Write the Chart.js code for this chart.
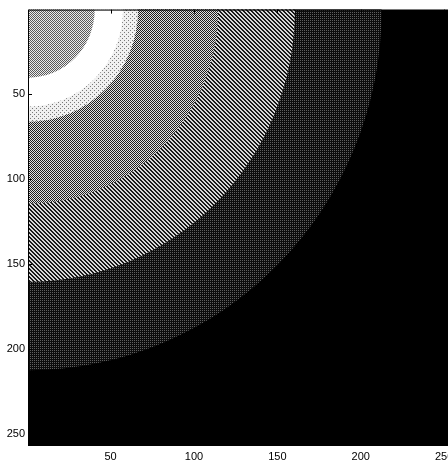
<!DOCTYPE html>
<html>
<head>
<meta charset="utf-8">
<script src="https://cdn.jsdelivr.net/npm/chart.js@4"></script>
<style>
  html, body { margin: 0; padding: 0; background: #fff; overflow: hidden; }
  #wrap { width: 448px; height: 461px; overflow: hidden; }
</style>
</head>
<body>
<div id="wrap"><canvas id="grafico" width="470" height="461"></canvas></div>
<script>
// rings around the top-left corner, outer radius in data units and value (0 = black, 1 = white)
const ringRadius = [212, 160, 114, 66, 57, 40];
const ringValue = [0.18, 0.44, 0.55, 0.86, 1.0, 0.62];
const outsideValue = 0;
const centerX = 0.5;
const centerY = 0.5;
const xTicks = [50, 100, 150, 200, 250];
const yTicks = [50, 100, 150, 200, 250];

// halftone-like textures so the fills look like the printed picture
function textura(ctx, valor) {
    const c = document.createElement('canvas');
    c.width = 4; c.height = 4;
    const g = c.getContext('2d');
    const gris = v => 'rgb(' + v + ',' + v + ',' + v + ')';
    for (let y = 0; y < 4; y++) {
        for (let x = 0; x < 4; x++) {
            let v;
            if (valor >= 0.99) v = 255;
            else if (valor >= 0.8) v = ((x + y) % 4 === 0 && x % 2 === 0) ? 120 : 240;
            else if (valor >= 0.6) v = (x + y) % 2 === 0 ? 90 : 235;
            else if (valor >= 0.5) v = (x + y) % 2 === 0 ? 30 : 225;
            else if (valor >= 0.3) v = ((x - y + 8) % 4 < 2) ? 25 : 215;
            else if (valor > 0) v = ((x + y) % 2 === 0 && y % 2 === 0) ? 95 : 12;
            else v = 0;
            g.fillStyle = gris(v);
            g.fillRect(x, y, 1, 1);
        }
    }
    return ctx.createPattern(c, 'repeat');
}

const anillos = {
    id: 'anillos',
    beforeDatasetsDraw(chart) {
        const { ctx, chartArea: a, scales: { x, y } } = chart;
        ctx.save();
        ctx.beginPath();
        ctx.rect(a.left, a.top, a.right - a.left, a.bottom - a.top);
        ctx.clip();
        ctx.fillStyle = textura(ctx, outsideValue);
        ctx.fillRect(a.left, a.top, a.right - a.left, a.bottom - a.top);
        const cx = x.getPixelForValue(centerX);
        const cy = y.getPixelForValue(centerY);
        ringRadius.forEach((r, i) => {
            const rx = Math.abs(x.getPixelForValue(centerX + r) - cx);
            const ry = Math.abs(y.getPixelForValue(centerY + r) - cy);
            ctx.beginPath();
            ctx.ellipse(cx, cy, rx, ry, 0, 0, Math.PI * 2);
            ctx.fillStyle = textura(ctx, ringValue[i]);
            ctx.fill();
        });
        ctx.restore();
    },
    afterDraw(chart) {
        const { ctx, chartArea: a, scales: { x, y } } = chart;
        ctx.save();
        ctx.strokeStyle = '#000';
        ctx.lineWidth = 1;
        ctx.strokeRect(a.left + 0.5, a.top + 0.5, a.right - a.left, a.bottom - a.top);
        ctx.beginPath();
        xTicks.forEach(t => {
            const px = Math.round(x.getPixelForValue(t)) + 0.5;
            ctx.moveTo(px, a.bottom); ctx.lineTo(px, a.bottom - 4);
            ctx.moveTo(px, a.top); ctx.lineTo(px, a.top + 4);
        });
        yTicks.forEach(t => {
            const py = Math.round(y.getPixelForValue(t)) + 0.5;
            ctx.moveTo(a.left, py); ctx.lineTo(a.left + 4, py);
        });
        ctx.stroke();
        ctx.restore();
    }
};

const ctx = document.getElementById('grafico').getContext('2d');
const grafico = new Chart(ctx, {
    type: 'scatter',
    data: { datasets: [{ data: [], pointRadius: 0 }] },
    options: {
        responsive: false,
        animation: false,
        layout: { padding: { top: 9, right: 15, left: 0, bottom: 0 } },
        plugins: { legend: { display: false }, tooltip: { enabled: false } },
        scales: {
            x: {
                type: 'linear',
                min: 0.5,
                max: 256.5,
                afterBuildTicks: s => { s.ticks = xTicks.map(v => ({ value: v })); },
                afterFit: s => { s.height = 16; },
                grid: { display: false, drawTicks: false, tickLength: 0 },
                border: { display: false },
                ticks: { color: '#000', padding: 5, maxRotation: 0, font: { family: 'Liberation Sans', size: 11 } }
            },
            y: {
                type: 'linear',
                reverse: true,
                min: 0.5,
                max: 256.5,
                afterBuildTicks: s => { s.ticks = yTicks.map(v => ({ value: v })); },
                afterFit: s => { s.width = 28; },
                grid: { display: false, drawTicks: false, tickLength: 0 },
                border: { display: false },
                ticks: { color: '#000', padding: 3, font: { family: 'Liberation Sans', size: 11 } }
            }
        }
    },
    plugins: [anillos]
});
</script>
</body>
</html>
